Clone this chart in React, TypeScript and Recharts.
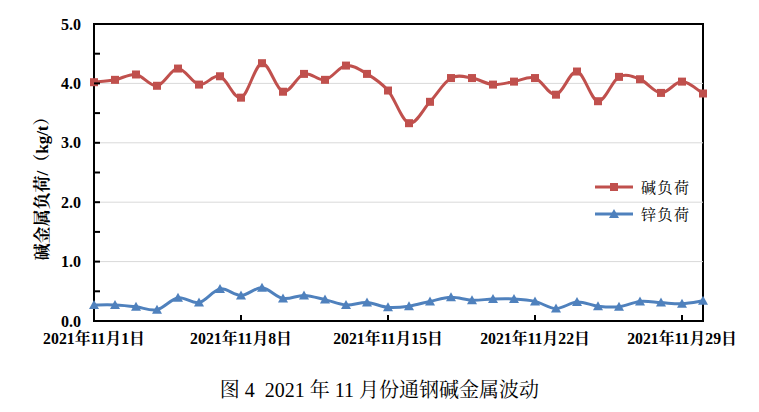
import {
  LineChart,
  Line,
  XAxis,
  YAxis,
  ReferenceLine,
  ReferenceArea,
  Legend,
} from 'recharts';

// 2021年11月 每日数据
const days = [
  1, 2, 3, 4, 5, 6, 7, 8, 9, 10, 11, 12, 13, 14, 15,
  16, 17, 18, 19, 20, 21, 22, 23, 24, 25, 26, 27, 28, 29, 30,
];
const alkaliLoad = [
  4.02, 4.06, 4.15, 3.96, 4.25, 3.98, 4.12, 3.76, 4.34, 3.86, 4.16, 4.06, 4.3, 4.16, 3.88,
  3.33, 3.69, 4.09, 4.09, 3.98, 4.03, 4.09, 3.81, 4.2, 3.7, 4.11, 4.07, 3.84, 4.03, 3.83,
];
const zincLoad = [
  0.27, 0.27, 0.24, 0.19, 0.39, 0.31, 0.54, 0.43, 0.56, 0.38, 0.43, 0.36, 0.27, 0.31, 0.23,
  0.25, 0.33, 0.4, 0.35, 0.37, 0.37, 0.33, 0.21, 0.32, 0.25, 0.24, 0.33, 0.31, 0.29, 0.34,
];
const xTicks = [1, 8, 15, 22, 29];
const yTicks = [0, 0.5, 1, 1.5, 2, 2.5, 3, 3.5, 4, 4.5, 5];
const gridValues = [1, 2, 3, 4];

const seriesNames = { alkali: '碱负荷', zinc: '锌负荷' };

const RED = '#C0504D';
const BLUE = '#4F81BD';
const SERIF = '"Times New Roman", "Liberation Serif", "Noto Serif CJK SC", "Noto Sans CJK SC", serif';
const CJK = '"SimSun", "Noto Serif CJK SC", "Noto Sans CJK SC", serif';

const data = days.map((d, i) => ({ day: d, alkali: alkaliLoad[i], zinc: zincLoad[i] }));

// Excel 风格平滑曲线 (Catmull-Rom)
function excelSmooth(context: any) {
  let pts: number[][] = [];
  return {
    areaStart() {},
    areaEnd() {},
    lineStart() {
      pts = [];
    },
    point(x: number, y: number) {
      pts.push([+x, +y]);
    },
    lineEnd() {
      if (!pts.length) return;
      context.moveTo(pts[0][0], pts[0][1]);
      for (let i = 0; i < pts.length - 1; i++) {
        const p0 = pts[i - 1] || pts[i];
        const p1 = pts[i];
        const p2 = pts[i + 1];
        const p3 = pts[i + 2] || p2;
        context.bezierCurveTo(
          p1[0] + (p2[0] - p0[0]) / 6,
          p1[1] + (p2[1] - p0[1]) / 6,
          p2[0] - (p3[0] - p1[0]) / 6,
          p2[1] - (p3[1] - p1[1]) / 6,
          p2[0],
          p2[1]
        );
      }
    },
  };
}

function SquareDot(props: any) {
  const { cx, cy } = props;
  return <rect x={cx - 4} y={cy - 4} width={8} height={8} fill={RED} />;
}

function TriangleDot(props: any) {
  const { cx, cy } = props;
  return <path d={`M${cx},${cy - 5} L${cx + 5},${cy + 4} L${cx - 5},${cy + 4} Z`} fill={BLUE} />;
}

function XTick(props: any) {
  const { x, y, payload } = props;
  return (
    <g>
      <line x1={x} y1={y} x2={x} y2={y - 6} stroke="#000" strokeWidth={2} />
      <text
        x={x}
        y={y + 23}
        textAnchor="middle"
        fontFamily={SERIF}
        fontWeight={700}
        fontSize={15.8}
        fill="#000"
      >
        {`2021年11月${payload.value}日`}
      </text>
    </g>
  );
}

function YTick(props: any) {
  const { x, y, payload } = props;
  const v = payload.value;
  return (
    <g>
      <line x1={x} y1={y} x2={x + 6} y2={y} stroke="#000" strokeWidth={2} />
      {Number.isInteger(v) && (
        <text
          x={x - 13}
          y={y + 5.5}
          textAnchor="end"
          fontFamily={SERIF}
          fontWeight={700}
          fontSize={16}
          fill="#000"
        >
          {v.toFixed(1)}
        </text>
      )}
    </g>
  );
}

function YLabel(props: any) {
  const vb = props.viewBox || { x: 34, y: 24, height: 297 };
  const cx = vb.x + 8;
  const cy = vb.y + vb.height / 2 + 12;
  return (
    <text
      x={cx}
      y={cy}
      transform={`rotate(-90, ${cx}, ${cy})`}
      textAnchor="middle"
      dominantBaseline="central"
      fontFamily={SERIF}
      fontWeight={700}
      fontSize={17}
      fill="#000"
    >
      碱金属负荷/（kg/t）
    </text>
  );
}

function LegendBox() {
  const rows = [
    { name: seriesNames.alkali, color: RED, marker: 'square' },
    { name: seriesNames.zinc, color: BLUE, marker: 'triangle' },
  ];
  return (
    <div>
      {rows.map(r => (
        <div key={r.name} style={{ display: 'flex', alignItems: 'center', height: 27 }}>
          <svg width={42} height={12} style={{ marginRight: 4 }}>
            <line x1={0} y1={6} x2={38} y2={6} stroke={r.color} strokeWidth={3} />
            {r.marker === 'square' ? (
              <rect x={15} y={2} width={8} height={8} fill={r.color} />
            ) : (
              <path d="M19,1 L24,10 L14,10 Z" fill={r.color} />
            )}
          </svg>
          <span style={{ fontFamily: CJK, fontSize: 15, color: '#000', letterSpacing: 1.5 }}>{r.name}</span>
        </div>
      ))}
    </div>
  );
}

export default function App() {
  return (
    <div
      style={{
        position: 'absolute',
        left: 0,
        top: 0,
        width: 759,
        height: 412,
        background: '#fff',
      }}
    >
      <LineChart
        width={759}
        height={360}
        data={data}
        margin={{ top: 24, right: 56, bottom: 9, left: 34 }}
      >
        <XAxis
          dataKey="day"
          type="number"
          domain={[1, 30]}
          ticks={xTicks}
          interval={0}
          height={30}
          tickSize={0}
          tickMargin={0}
          tickLine={false}
          axisLine={{ stroke: '#000', strokeWidth: 2 }}
          tick={<XTick />}
        />
        <YAxis
          type="number"
          domain={[0, 5]}
          ticks={yTicks}
          interval={0}
          width={60}
          tickSize={0}
          tickMargin={0}
          tickLine={false}
          axisLine={{ stroke: '#000', strokeWidth: 2 }}
          tick={<YTick />}
          label={<YLabel />}
        />
        {gridValues.map(v => (
          <ReferenceLine key={v} y={v} stroke="#d9d9d9" strokeWidth={1} />
        ))}
        <ReferenceArea
          x1={1}
          x2={30}
          y1={0}
          y2={5}
          fill="none"
          stroke="#000"
          strokeWidth={2}
        />
        <Line
          dataKey="alkali"
          name={seriesNames.alkali}
          type={excelSmooth as any}
          stroke={RED}
          strokeWidth={3}
          dot={(p: any) => <SquareDot key={`a${p.index}`} {...p} />}
          isAnimationActive={false}
        />
        <Line
          dataKey="zinc"
          name={seriesNames.zinc}
          type={excelSmooth as any}
          stroke={BLUE}
          strokeWidth={3}
          dot={(p: any) => <TriangleDot key={`z${p.index}`} {...p} />}
          isAnimationActive={false}
        />
        <Legend
          layout="vertical"
          align="center"
          verticalAlign="middle"
          wrapperStyle={{ left: 595, top: 173, width: 120 }}
          content={() => <LegendBox />}
        />
      </LineChart>
      <div
        style={{
          position: 'absolute',
          left: 0,
          top: 377,
          width: 759,
          textAlign: 'center',
          fontFamily: SERIF,
          fontSize: 20,
          lineHeight: '26px',
          color: '#000',
          whiteSpace: 'pre',
        }}
      >
        图 4  2021 年 11 月份通钢碱金属波动
      </div>
    </div>
  );
}
